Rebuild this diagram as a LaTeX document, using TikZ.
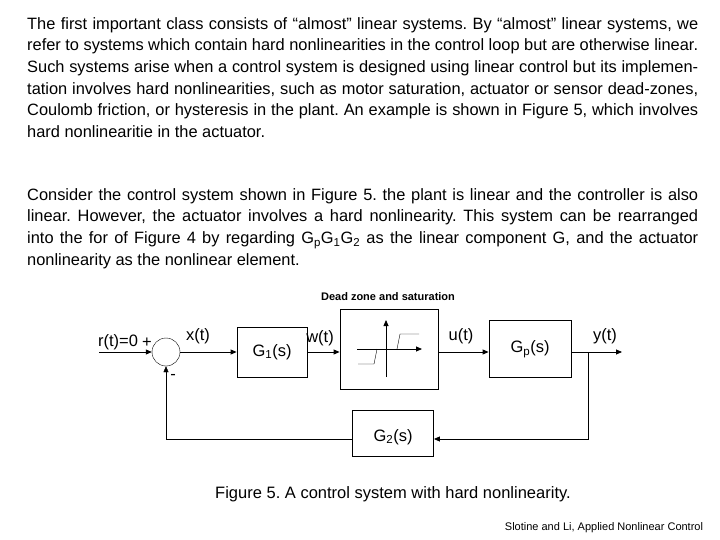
\documentclass[tikz,border=0pt]{standalone}
\usepackage{fontspec}
\setmainfont{Liberation Sans}
\usetikzlibrary{arrows.meta}
\frenchspacing
\begin{document}
\begin{tikzpicture}[x=1pt,y=-1pt,
  blk/.style={draw,thick,inner sep=0pt},
  sig/.style={thick,-{Triangle[length=6pt,width=5pt]}},
  lbl/.style={font=\fontsize{16.5}{16.5}\selectfont,inner sep=0pt},
  para/.style={anchor=north west,inner sep=0pt,text width=671pt,align=justify,font=\fontsize{16.4}{21.7}\selectfont}]
\useasboundingbox (0,0) rectangle (720,540);
\node[para] (p1) at (27,17) {The first important class consists of “almost” linear systems. By “almost” linear systems, we refer to systems which contain hard nonlinearities in the control loop but are otherwise linear. Such systems arise when a control system is designed using linear control but its implementation involves hard nonlinearities, such as motor saturation, actuator or sensor dead-zones, Coulomb friction, or hysteresis in the plant. An example is shown in Figure 5, which involves hard nonlinearitie in the actuator.};
\node[para] (p2) at (27,188) {Consider the control system shown in Figure 5. the plant is linear and the controller is also linear. However, the actuator involves a hard nonlinearity. This system can be rearranged into the for of Figure 4 by regarding G\textsubscript{p}G\textsubscript{1}G\textsubscript{2} as the linear component G, and the actuator nonlinearity as the nonlinear element.};
% blocks
\node[draw,thin,circle,minimum size=28pt,inner sep=0pt] (sum) at (166,352) {};
\node[blk,minimum width=70pt,minimum height=50pt] (g1) at (272,352) {};
\node[lbl] at (g1) {G\textsubscript{1}(s)};
\node[blk,minimum width=98pt,minimum height=80pt] (nl) at (389,349) {};
\node[blk,minimum width=82pt,minimum height=57pt] (gp) at (530,349) {};
\node[lbl] at (gp) {G\textsubscript{p}(s)};
\node[blk,minimum width=81pt,minimum height=46pt] (g2) at (393,433) {};
\node[lbl] (g2t) at (393,437) {G\textsubscript{2}(s)};
% nonlinearity sketch
\coordinate (vb) at (386,377); \coordinate (vt) at (386,320);
\coordinate (hl) at (357,349); \coordinate (hr) at (422,349);
\draw[sig] (vb) -- (vt);
\draw[sig] (hl) -- (hr);
\draw[thin] (397,349) -- (400,334) -- (419,334);
\draw[thin] (377,349) -- (374,364) -- (358,364);
% signals
\coordinate (rin) at (99,352);
\coordinate (yout) at (622,352);
\coordinate (br) at (588,352);
\coordinate (fb1) at (588,439);
\coordinate (fb2) at (166,439);
\draw[sig] (rin) -- (sum.west);
\draw[sig] (sum.east) -- (g1.west);
\draw[sig] (g1.east) -- (nl.west |- 352,352);
\draw[sig] (nl.east |- 352,352) -- (gp.west |- 352,352);
\draw[sig] (gp.east |- 352,352) -- (yout);
\draw[sig] (br) -- (fb1) -- (g2.east |- fb1);
\draw[thin,-{Triangle[length=6pt,width=5pt]}] (g2.west |- fb2) -- (fb2) -- (sum.south);
% labels
\node[lbl] (lr) at (118,342) {r(t)=0};
\node[lbl] (lp) at (147,343) {+};
\node[lbl] (lm) at (173,377) {-};
\node[lbl] (lx) at (198,336) {x(t)};
\node[lbl] (lw) at (320,338) {w(t)};
\node[lbl] (lu) at (461,336) {u(t)};
\node[lbl] (ly) at (605,336) {y(t)};
\node[font=\fontsize{11}{11}\selectfont\bfseries,inner sep=0pt] (dz) at (388,297) {Dead zone and saturation};
\node[font=\fontsize{16.5}{16.5}\selectfont,inner sep=0pt] (cap) at (393,494) {Figure 5. A control system with hard nonlinearity.};
\node[font=\fontsize{11}{11}\selectfont,inner sep=0pt] (cr) at (604,528) {Slotine and Li, Applied Nonlinear Control};
\end{tikzpicture}
\end{document}
